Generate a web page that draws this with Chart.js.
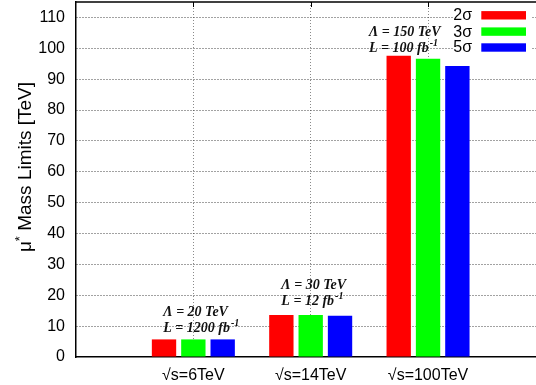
<!DOCTYPE html>
<html>
<head>
<meta charset="utf-8">
<script src="https://cdn.jsdelivr.net/npm/chart.js@4"></script>
<style>
  html, body { margin: 0; padding: 0; background: #fff; overflow: hidden; }
  canvas { display: block; }
</style>
</head>
<body>
<canvas id="chart" width="536" height="385"></canvas>
<script>
// Excited-muon mass reach for three collider energies
const categories = ['√s=6TeV', '√s=14TeV', '√s=100TeV'];
const seriesLabels = ['2σ', '3σ', '5σ'];
const limits2sigma = [5.7, 13.6, 97.6];
const limits3sigma = [5.7, 13.6, 96.6];
const limits5sigma = [5.7, 13.4, 94.3];
const yTicks = [0, 10, 20, 30, 40, 50, 60, 70, 80, 90, 100, 110];
const lambdaLabels = ['Λ = 20 TeV', 'Λ = 30 TeV', 'Λ = 150 TeV'];
const lumiLabels = ['L = 1200 fb', 'L = 12 fb', 'L = 100 fb'];
const lumiExponent = '-1';

const seriesColors = ['#ff0000', '#00ff00', '#0000ff'];
const seriesValues = [limits2sigma, limits3sigma, limits5sigma];

const FONT = '"Liberation Sans", Arial, Helvetica, sans-serif';
const SERIF = '"Liberation Serif", "Times New Roman", serif';

// Rotated y-axis title with a superscript star
const axisTitlePlugin = {
  id: 'axisTitle',
  afterDraw(chart) {
    const ctx = chart.ctx;
    const big = '19px ' + FONT;
    const small = '13px ' + FONT;
    const head = 'μ', star = '*', tail = ' Mass Limits [TeV]';
    ctx.save();
    ctx.font = big;
    const wHead = ctx.measureText(head).width;
    const wTail = ctx.measureText(tail).width;
    ctx.font = small;
    const wStar = ctx.measureText(star).width;
    const total = wHead + wStar + wTail;
    ctx.translate(31, 167);
    ctx.rotate(-Math.PI / 2);
    ctx.fillStyle = '#000';
    ctx.textBaseline = 'alphabetic';
    ctx.textAlign = 'left';
    let x = -total / 2;
    ctx.font = big;
    ctx.fillText(head, x, 0);
    x += wHead;
    ctx.font = small;
    ctx.fillText(star, x, -7);
    x += wStar;
    ctx.font = big;
    ctx.fillText(tail, x, 0);
    ctx.restore();
  }
};

// Top frame line with inward tick marks
const framePlugin = {
  id: 'frame',
  afterDatasetsDraw(chart) {
    const {ctx, chartArea} = chart;
    const xs = chart.scales.x;
    ctx.save();
    ctx.strokeStyle = '#000';
    ctx.lineWidth = 1.5;
    ctx.beginPath();
    ctx.moveTo(chartArea.left, chartArea.top);
    ctx.lineTo(chartArea.right, chartArea.top);
    ctx.stroke();
    ctx.lineWidth = 1;
    categories.forEach((c, i) => {
      const px = Math.round(xs.getPixelForValue(i)) + 0.5;
      ctx.beginPath();
      ctx.moveTo(px, chartArea.top);
      ctx.lineTo(px, chartArea.top + 5);
      ctx.stroke();
    });
    ctx.restore();
  }
};

// Scenario notes above each group of bars
const notesPlugin = {
  id: 'notes',
  afterDatasetsDraw(chart, args, opts) {
    const {ctx} = chart;
    const xs = chart.scales.x, ys = chart.scales.y;
    ctx.save();
    ctx.fillStyle = '#111';
    ctx.textBaseline = 'alphabetic';
    ctx.textAlign = 'left';
    opts.anchors.forEach((a, i) => {
      const px = xs.getPixelForValue(a.x);
      const py = ys.getPixelForValue(a.y);
      ctx.font = 'italic bold 14px ' + SERIF;
      ctx.fillText(lambdaLabels[i], px, py);
      ctx.fillText(lumiLabels[i], px, py + 16);
      const w = ctx.measureText(lumiLabels[i]).width;
      ctx.font = 'italic bold 10px ' + SERIF;
      ctx.fillText(lumiExponent, px + w + 1, py + 10);
    });
    ctx.restore();
  }
};

// Key in the upper-right corner: label first, then colour swatch
const keyPlugin = {
  id: 'key',
  afterDraw(chart) {
    const {ctx} = chart;
    ctx.save();
    ctx.fillStyle = '#fff';
    ctx.fillRect(453, 4, 79, 52);
    ctx.font = '16px ' + FONT;
    ctx.textAlign = 'right';
    ctx.textBaseline = 'middle';
    const rows = [15.3, 31.6, 47.5];
    chart.data.datasets.forEach((ds, i) => {
      ctx.fillStyle = '#000';
      ctx.fillText(ds.label, 472, rows[i] + 0.5);
      ctx.fillStyle = ds.backgroundColor;
      ctx.fillRect(481.3, rows[i] - 4.2, 44.7, 8.4);
    });
    ctx.restore();
  }
};

const datasets = seriesLabels.map((label, s) => ({
  label,
  data: seriesValues[s].map((v, i) => ({x: i, y: v})),
  backgroundColor: seriesColors[s],
  borderWidth: 0,
  barPercentage: 0.83,
  categoryPercentage: 0.75
}));

new Chart(document.getElementById('chart'), {
  type: 'bar',
  data: {datasets},
  options: {
    responsive: false,
    animation: false,
    events: [],
    layout: {padding: {top: 2, left: 0, right: 0, bottom: 0}},
    plugins: {
      legend: {display: false},
      tooltip: {enabled: false},
      notes: {
        anchors: [
          {x: -0.256, y: 13.3},
          {x: 0.75, y: 21.9},
          {x: 1.497, y: 104.1}
        ]
      }
    },
    scales: {
      x: {
        type: 'linear',
        min: -1,
        max: 2.92,
        offset: false,
        afterBuildTicks: axis => {
          axis.ticks = [-1, 0, 1, 2].map(v => ({value: v}));
        },
        afterFit: scale => {
          scale.height = 28;
          scale.paddingLeft = 0;
          scale.paddingRight = 0;
        },
        ticks: {
          padding: 9,
          color: '#000',
          font: {family: FONT, size: 16},
          maxRotation: 0,
          autoSkip: false,
          callback: v => (categories[v] !== undefined ? categories[v] : '')
        },
        grid: {
          offset: false,
          drawTicks: false,
          color: ctx => (ctx.tick && ctx.tick.value === -1 ? 'rgba(0,0,0,0)' : '#8a8a8a'),
          lineWidth: 1
        },
        border: {display: true, color: '#000', width: 1.5, dash: [1, 2]}
      },
      y: {
        type: 'linear',
        min: 0,
        max: 115,
        afterBuildTicks: axis => {
          axis.ticks = yTicks.map(v => ({value: v}));
        },
        afterFit: scale => {
          scale.width = 76;
          scale.paddingTop = 0;
          scale.paddingBottom = 0;
        },
        ticks: {
          padding: 11,
          color: '#000',
          font: {family: FONT, size: 16}
        },
        grid: {
          drawTicks: false,
          color: ctx => (ctx.tick && ctx.tick.value === 0 ? 'rgba(0,0,0,0)' : '#444'),
          lineWidth: 1
        },
        border: {display: true, color: '#000', width: 1.5, dash: [1, 2]}
      }
    }
  },
  plugins: [axisTitlePlugin, framePlugin, notesPlugin, keyPlugin]
});
</script>
</body>
</html>
